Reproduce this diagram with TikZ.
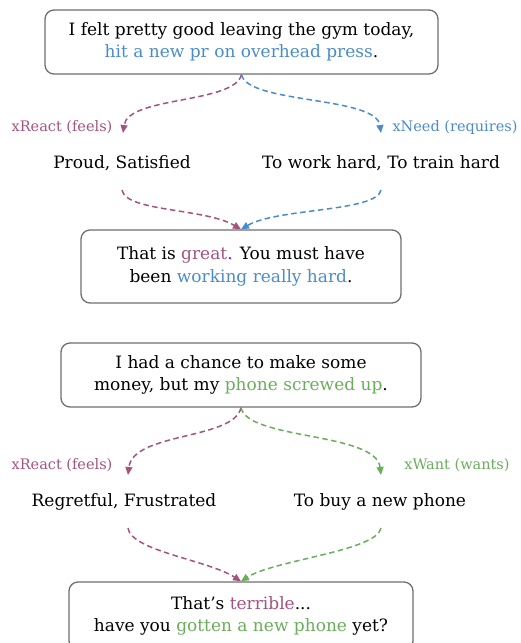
\documentclass[tikz,border=0pt]{standalone}
\usepackage{fontspec}
\setmainfont{DejaVu Serif}
\usetikzlibrary{arrows.meta}
\definecolor{pk}{HTML}{A5527F}
\definecolor{bl}{HTML}{4A8BCC}
\definecolor{gr}{HTML}{6AAD5A}
\definecolor{bd}{HTML}{6E6E6E}
\definecolor{vi}{HTML}{8A00FF}
\newcommand{\mainsz}{\fontsize{17pt}{22.5pt}\selectfont}
\newcommand{\lblsz}{\fontsize{14.5pt}{16pt}\selectfont}
\begin{document}
\begin{tikzpicture}[x=1pt,y=-1pt,
  utter/.style={draw=bd, line width=1.3pt, rounded corners=9pt, align=center, font=\mainsz, inner sep=0pt},
  phr/.style={font=\mainsz, inner sep=0pt},
  lbl/.style={font=\lblsz, inner sep=0pt},
  conn/.style={dash pattern=on 5.5pt off 3.5pt, line width=1.5pt, -{Triangle[length=8pt,width=7pt]}}]
\useasboundingbox (0,0) rectangle (521,643);
% ---- example 1
\node[utter, minimum width=393pt, minimum height=64pt] (b1) at (241.5,42)
  {I felt pretty good leaving the gym today,\\ \textcolor{bl}{hit a new pr on overhead press}.};
\node[lbl, text=pk] (r1) at (62,127) {xReact (feels)};
\node[lbl, text=bl] (n1) at (455,127) {xNeed (requires)};
\node[phr] (p1) at (122,163) {Proud, Satisfied};
\node[phr] (q1) at (381,163) {To work hard, To train hard};
\node[utter, minimum width=320pt, minimum height=73pt] (b2) at (241,266.5)
  {That is \textcolor{pk}{great}\textcolor{vi}{.} You must have\\ been \textcolor{bl}{working really hard}.};
\coordinate (p1t) at (123,133);
\coordinate (q1t) at (381,133);
\coordinate (p1b) at (122,190);
\coordinate (q1b) at (381,190);
\draw[conn, pk] (b1.south) .. controls (234,104) and (128,96) .. (p1t);
\draw[conn, bl] (b1.south) .. controls (248,104) and (376,96) .. (q1t);
\draw[conn, pk] (p1b) .. controls (126,212) and (205,208) .. (b2.north);
\draw[conn, bl] (q1b) .. controls (377,212) and (277,208) .. (b2.north);
% ---- example 2
\node[utter, minimum width=360pt, minimum height=64pt] (b3) at (241,375)
  {I had a chance to make some\\ money, but my \textcolor{gr}{phone screwed up}.};
\node[lbl, text=pk] (r2) at (62,465) {xReact (feels)};
\node[lbl, text=gr] (w2) at (457,465) {xWant (wants)};
\node[phr] (p2) at (124,502) {Regretful, Frustrated};
\node[phr] (q2) at (380,502) {To buy a new phone};
\node[utter, minimum width=344pt, minimum height=68pt] (b4) at (241,616)
  {That’s \textcolor{pk}{terrible}...\\ have you \textcolor{gr}{gotten a new phone} yet?};
\coordinate (p2t) at (128,475);
\coordinate (q2t) at (381,475);
\coordinate (p2b) at (128,528);
\coordinate (q2b) at (381,528);
\draw[conn, pk] (b3.south) .. controls (234,440) and (133,432) .. (p2t);
\draw[conn, gr] (b3.south) .. controls (248,440) and (376,432) .. (q2t);
\draw[conn, pk] (p2b) .. controls (131,551) and (208,560) .. (b4.north);
\draw[conn, gr] (q2b) .. controls (377,551) and (274,560) .. (b4.north);
\end{tikzpicture}
\end{document}
